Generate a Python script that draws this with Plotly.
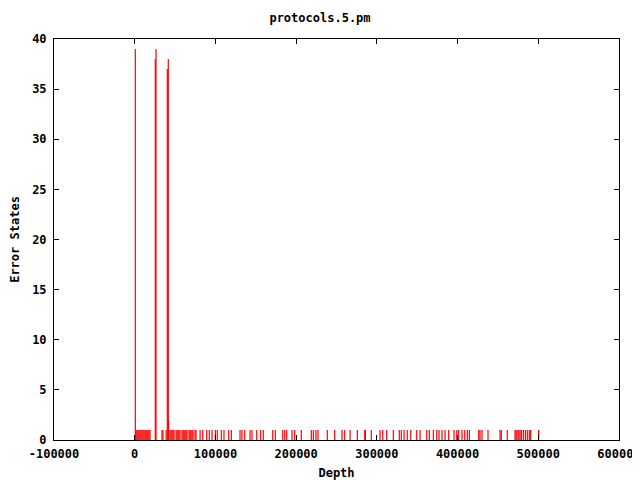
import plotly.graph_objects as go

title_text = "protocols.5.pm"
x_label = "Depth"
y_label = "Error States"

# tall impulses
spike_depth = [750, 25500, 26400, 40400, 41600, 42000]
spike_value = [39, 38, 39, 37, 38, 2]

# impulses of height 1
one_depth = [
    1600, 2800, 4100, 5300, 6600, 7800, 9000, 10300, 11500, 12800, 14000, 15200,
    16500, 17700, 19000, 33800, 35000, 38900, 43700, 45000, 46200, 47500, 48700,
    51200, 52400, 53700, 54900, 56100, 58600, 59900, 61100, 62300, 63600, 64800,
    67300, 68500, 69700, 71000, 72200, 74700, 75900,
    81000, 84300, 89200, 92400, 95800, 99900, 102300, 107300, 110600, 116500,
    119700, 130500, 132900, 136300, 142900, 145300, 151200, 156100, 159300,
    171000, 174200, 183400, 185900, 188300, 194900, 198200, 206400, 218800,
    221300, 224600, 227100, 238600, 247800, 256800, 260200, 266800, 275800,
    285000, 285800, 293100, 303900, 307300, 312200, 320400, 327800, 330300,
    333700, 337700, 342000, 349400, 353500, 361800, 365000, 370000, 374200,
    377000, 380700, 384500, 389000, 395600, 399000, 401400, 405500, 408900,
    412100, 414600, 426200, 427800, 430300, 437700, 452600, 454200, 461600,
    471200, 472400, 473700, 475800, 477400, 479000, 481500, 484000, 486400,
    488900, 490600, 500500,
]
one_value = [1] * len(one_depth)

x_ticks = [-100000, 0, 100000, 200000, 300000, 400000, 500000, 600000]
y_ticks = [0, 5, 10, 15, 20, 25, 30, 35, 40]

depths = spike_depth + one_depth
values = spike_value + one_value

xs, ys = [], []
for d, v in zip(depths, values):
    xs += [d, d, None]
    ys += [0, v, None]

font_family = "DejaVu Sans Mono, Liberation Mono, monospace"
bold_font = dict(family=font_family, size=12, color="black", weight="bold")

fig = go.Figure()
fig.add_trace(go.Scatter(x=xs, y=ys, mode="lines",
                         line=dict(color="#ff0000", width=1.2),
                         hoverinfo="skip", showlegend=False))

axis_common = dict(
    showgrid=False, zeroline=False, showline=True, mirror="allticks",
    linecolor="black", linewidth=1, ticks="inside", ticklen=5,
    tickcolor="black", automargin=False, tickfont=bold_font,
    ticklabeloverflow="allow",
)

# the page body has an 8px margin, so the figure is drawn 8px in from the top-left
fig_w, fig_h = 632, 472
fig.update_layout(
    width=fig_w, height=fig_h,
    margin=dict(l=46, r=21, t=31, b=40, autoexpand=False),
    paper_bgcolor="white", plot_bgcolor="white",
    title=dict(text=title_text, x=(320 - 8) / fig_w, xanchor="center",
               y=1 - 10 / fig_h, yanchor="middle", automargin=False,
               font=bold_font),
    xaxis=dict(range=[-100000, 600000], tickvals=x_ticks,
               ticktext=[str(t) for t in x_ticks], ticklabelstandoff=3,
               title=dict(text=x_label, standoff=12, font=bold_font),
               **axis_common),
    yaxis=dict(range=[0, 40], tickvals=y_ticks, ticklabelstandoff=4,
               title=dict(text=y_label, standoff=16, font=bold_font),
               **axis_common),
)

fig.write_html("out.html")
